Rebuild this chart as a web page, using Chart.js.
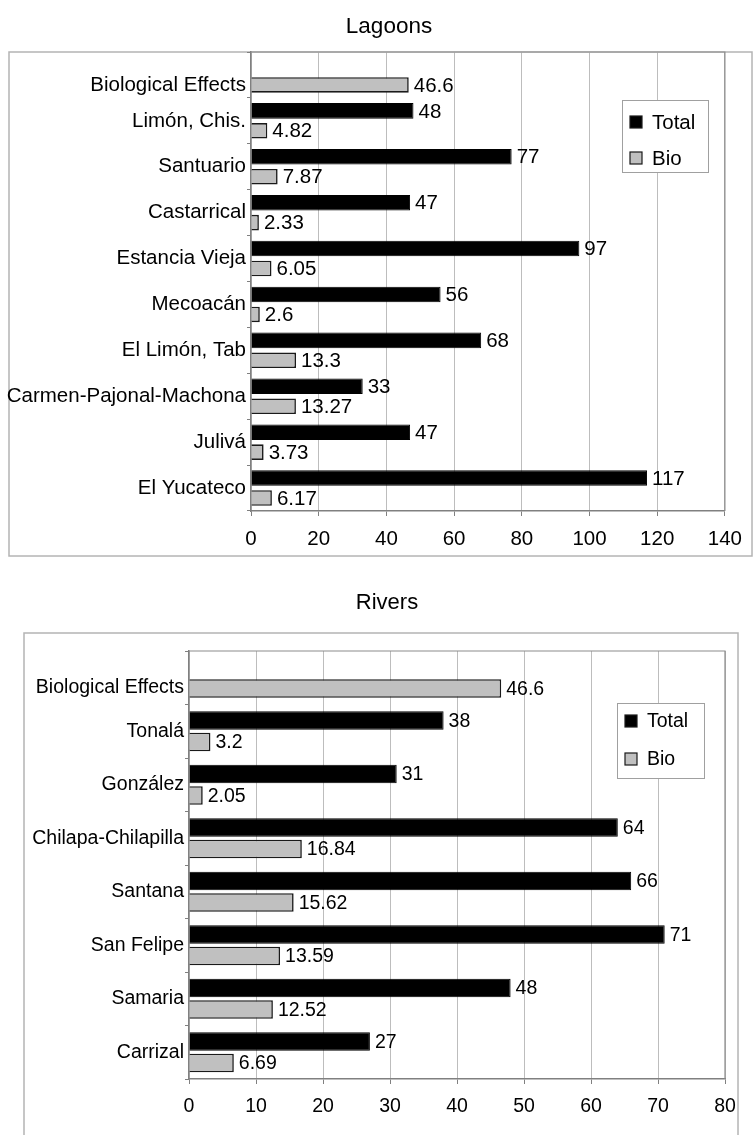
<!DOCTYPE html>
<html>
<head>
<meta charset="utf-8">
<script src="https://cdn.jsdelivr.net/npm/chart.js@4.4.1/dist/chart.umd.min.js"></script>
<style>
  html, body { margin: 0; padding: 0; background: #ffffff; }
  #page { position: relative; width: 753px; height: 1135px; overflow: hidden; background: #ffffff; }
  .box { position: absolute; left: 0; width: 753px; }
  canvas { display: block; }
</style>
</head>
<body>
<div id="page">
  <div class="box" style="top:0;height:565px"><canvas id="lagoons" width="753" height="565"></canvas></div>
  <div class="box" style="top:565px;height:570px"><canvas id="rivers" width="753" height="570"></canvas></div>
</div>
<script>
// ---- data ----
const seriesNames = ['Total', 'Bio'];

const lagoonSites = ['Biological Effects', 'Limón, Chis.', 'Santuario', 'Castarrical', 'Estancia Vieja',
  'Mecoacán', 'El Limón, Tab', 'Carmen-Pajonal-Machona', 'Julivá', 'El Yucateco'];
const lagoonTotal = [null, 48, 77, 47, 97, 56, 68, 33, 47, 117];
const lagoonBio   = [46.6, 4.82, 7.87, 2.33, 6.05, 2.6, 13.3, 13.27, 3.73, 6.17];
const lagoonTicks = [0, 20, 40, 60, 80, 100, 120, 140];

const riverSites = ['Biological Effects', 'Tonalá', 'González', 'Chilapa-Chilapilla', 'Santana',
  'San Felipe', 'Samaria', 'Carrizal'];
const riverTotal = [null, 38, 31, 64, 66, 71, 48, 27];
const riverBio   = [46.6, 3.2, 2.05, 16.84, 15.62, 13.59, 12.52, 6.69];
const riverTicks = [0, 10, 20, 30, 40, 50, 60, 70, 80];

const FONT = '"Liberation Sans", Arial, Helvetica, sans-serif';

function makeChart(id, spec) {
  const canvas = document.getElementById(id);
  const W = canvas.width, H = canvas.height;
  const g = spec.geom;

  // frame, plot border, title, legend and value labels
  const decor = {
    id: 'decor_' + id,
    beforeDraw(chart) {
      const ctx = chart.ctx;
      ctx.save();
      ctx.fillStyle = '#ffffff';
      ctx.fillRect(0, 0, W, H);
      ctx.strokeStyle = '#b4b4b4';
      ctx.lineWidth = 1.5;
      ctx.strokeRect(g.frame[0], g.frame[1], g.frame[2] - g.frame[0], g.frame[3] - g.frame[1]);
      ctx.restore();
    },
    beforeDatasetsDraw(chart) {
      const a = chart.chartArea, ctx = chart.ctx;
      ctx.save();
      ctx.strokeStyle = '#8c8c8c';
      ctx.lineWidth = 1.2;
      ctx.beginPath();
      ctx.moveTo(a.left, a.top);
      ctx.lineTo(a.right, a.top);
      ctx.lineTo(a.right, a.bottom);
      ctx.stroke();
      ctx.restore();
    },
    afterDatasetsDraw(chart) {
      const ctx = chart.ctx;
      ctx.save();
      ctx.fillStyle = '#000000';
      ctx.font = spec.fontSize + 'px ' + FONT;
      ctx.textAlign = 'left';
      ctx.textBaseline = 'middle';
      chart.data.datasets.forEach((ds, di) => {
        const meta = chart.getDatasetMeta(di);
        meta.data.forEach((bar, i) => {
          const v = ds.data[i];
          if (v === null || v === undefined) return;
          ctx.fillText(String(v), bar.x + 5, bar.y + 1);
        });
      });
      ctx.restore();
    },
    afterDraw(chart) {
      const ctx = chart.ctx;
      ctx.save();
      // title
      ctx.fillStyle = '#000000';
      ctx.font = spec.titleSize + 'px ' + FONT;
      ctx.textAlign = 'center';
      ctx.textBaseline = 'middle';
      ctx.fillText(spec.title, g.title[0], g.title[1]);
      // legend
      const L = g.legend;
      ctx.fillStyle = '#ffffff';
      ctx.fillRect(L[0], L[1], L[2], L[3]);
      ctx.strokeStyle = '#a0a0a0';
      ctx.lineWidth = 1;
      ctx.strokeRect(L[0] + 0.5, L[1] + 0.5, L[2], L[3]);
      ctx.font = spec.fontSize + 'px ' + FONT;
      ctx.textAlign = 'left';
      chart.data.datasets.forEach((ds, di) => {
        const cy = L[1] + L[4] + di * L[5];
        const sx = L[0] + 8, s = 12;
        ctx.fillStyle = ds.backgroundColor;
        ctx.fillRect(sx, cy - s / 2, s, s);
        ctx.strokeStyle = '#1a1a1a';
        ctx.lineWidth = 1.2;
        ctx.strokeRect(sx, cy - s / 2, s, s);
        ctx.fillStyle = '#000000';
        ctx.fillText(ds.label, sx + 22, cy + 1);
      });
      ctx.restore();
    }
  };

  return new Chart(canvas, {
    type: 'bar',
    data: {
      labels: spec.labels,
      datasets: [
        { label: seriesNames[0], data: spec.total, backgroundColor: '#000000',
          borderColor: '#000000', borderWidth: 1 },
        { label: seriesNames[1], data: spec.bio, backgroundColor: '#c0c0c0',
          borderColor: '#1a1a1a', borderWidth: 1.6 }
      ]
    },
    options: {
      indexAxis: 'y',
      responsive: false,
      animation: false,
      events: [],
      categoryPercentage: spec.catPct,
      barPercentage: spec.barPct,
      layout: { padding: { left: 0, right: W - g.plot[1], top: g.plot[2], bottom: 0 } },
      plugins: { legend: { display: false }, tooltip: { enabled: false }, title: { display: false } },
      scales: {
        x: {
          min: spec.ticks[0],
          max: spec.ticks[spec.ticks.length - 1],
          afterBuildTicks(scale) { scale.ticks = spec.ticks.map(v => ({ value: v })); },
          afterFit(scale) { scale.height = H - g.plot[3]; },
          grid: { color: '#bdbdbd', lineWidth: 1, tickLength: 5, tickColor: '#808080', drawTicks: true },
          border: { color: '#808080', width: 1.5 },
          ticks: { color: '#000000', padding: 11, font: { family: FONT, size: spec.fontSize } }
        },
        y: {
          afterFit(scale) { scale.width = g.plot[0]; },
          grid: { drawOnChartArea: false, tickLength: 4, tickColor: '#808080', offset: true },
          border: { color: '#808080', width: 1.5 },
          ticks: {
            color: '#000000', padding: 1,
            font: { family: FONT, size: spec.fontSize, lineHeight: 1.0 },
            // the threshold row has no Total bar, so its name sits level with the Bio bar
            callback(value, index) {
              const name = this.getLabelForValue(value);
              return spec.total[index] === null ? ['', name] : name;
            }
          }
        }
      }
    },
    plugins: [decor]
  });
}

makeChart('lagoons', {
  title: 'Lagoons', labels: lagoonSites, total: lagoonTotal, bio: lagoonBio, ticks: lagoonTicks,
  fontSize: 20.5, titleSize: 22.5, catPct: 0.87, barPct: 0.78,
  geom: {
    plot: [251, 733, 52, 511],          // left, right, top, bottom
    frame: [9, 52, 752, 556],
    title: [389, 27],
    legend: [622, 100, 86, 72, 22, 36]  // x, y, w, h, first row offset, row step
  }
});

makeChart('rivers', {
  title: 'Rivers', labels: riverSites, total: riverTotal, bio: riverBio, ticks: riverTicks,
  fontSize: 19.5, titleSize: 22, catPct: 0.8, barPct: 0.87,
  geom: {
    plot: [189, 725, 86, 514],
    frame: [24, 68, 738, 580],
    title: [387, 38],
    legend: [617, 138, 87, 75, 18, 38]
  }
});
</script>
</body>
</html>
